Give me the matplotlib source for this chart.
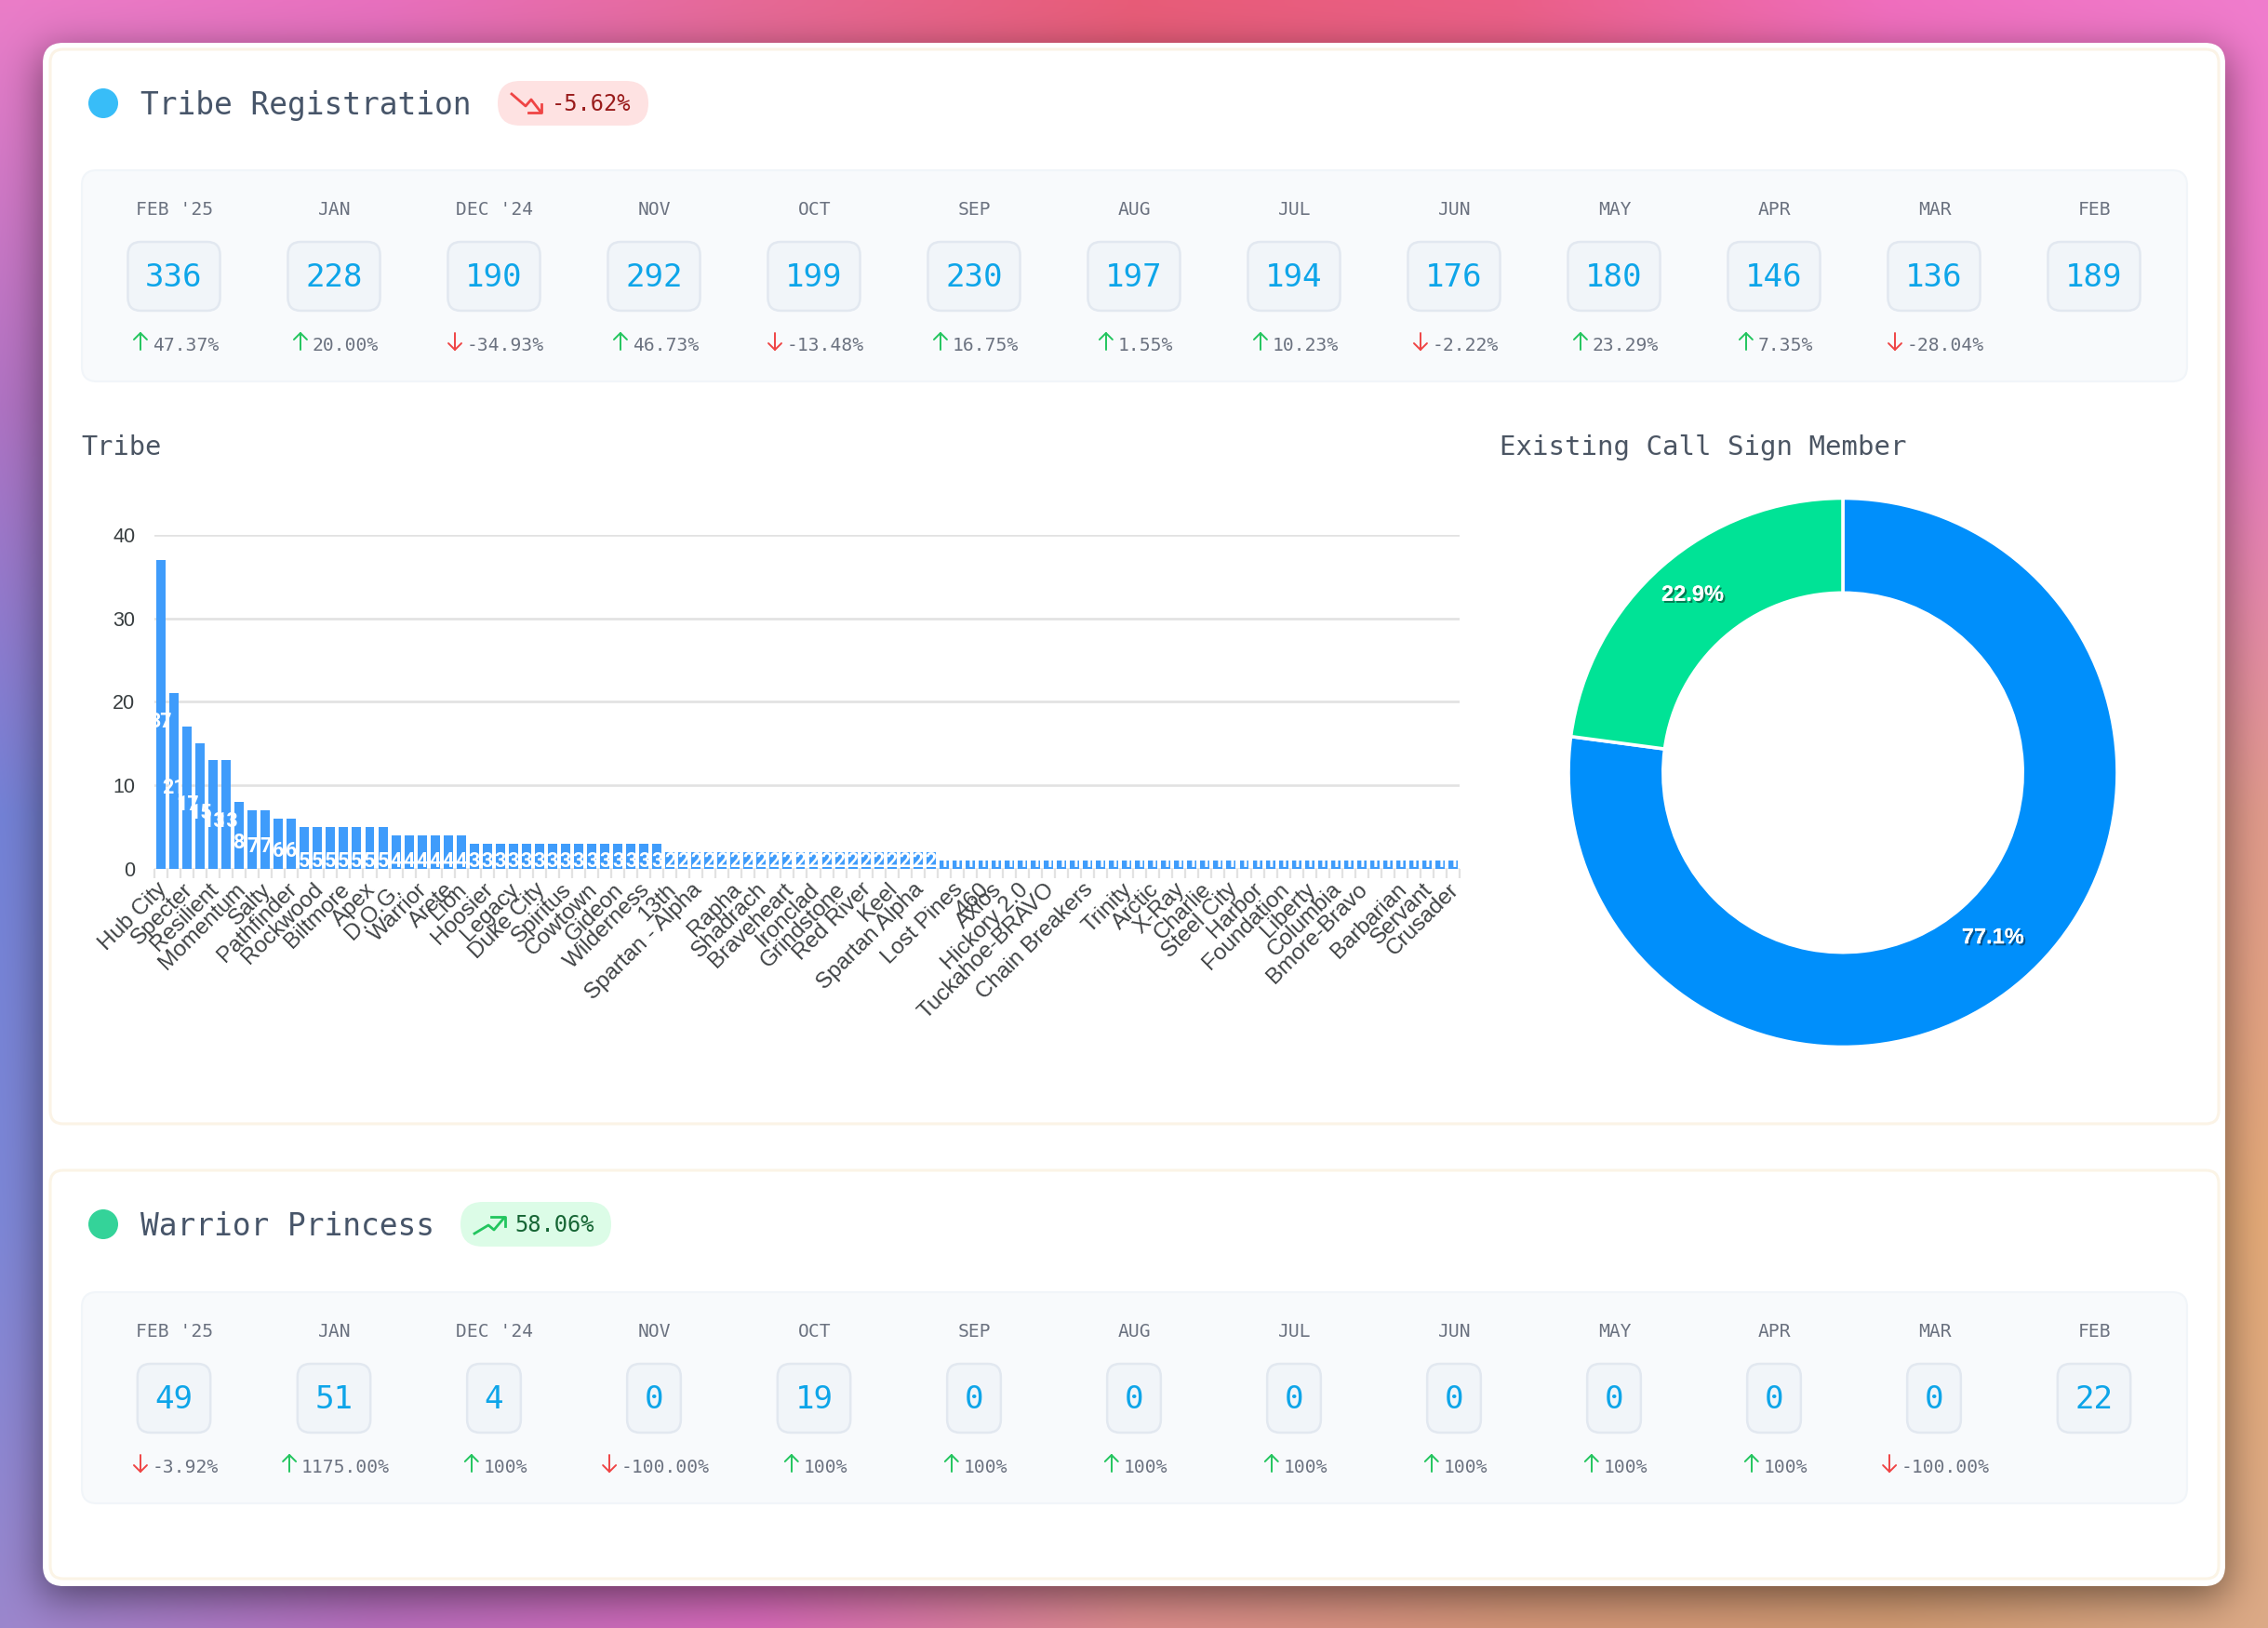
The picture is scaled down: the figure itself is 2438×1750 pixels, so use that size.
import numpy as np
import matplotlib
matplotlib.use("Agg")
import matplotlib.pyplot as plt
import matplotlib.patheffects as pe
from matplotlib.patches import FancyBboxPatch, Circle
from math import erf

# ---- dashboard figures ----
months = ["FEB '25", "JAN", "DEC '24", "NOV", "OCT", "SEP", "AUG", "JUL", "JUN", "MAY", "APR", "MAR", "FEB"]
tribe_totals = [336, 228, 190, 292, 199, 230, 197, 194, 176, 180, 146, 136, 189]
tribe_changes = ["47.37%", "20.00%", "-34.93%", "46.73%", "-13.48%", "16.75%", "1.55%",
                 "10.23%", "-2.22%", "23.29%", "7.35%", "-28.04%", None]
warrior_totals = [49, 51, 4, 0, 19, 0, 0, 0, 0, 0, 0, 0, 22]
warrior_changes = ["-3.92%", "1175.00%", "100%", "-100.00%", "100%", "100%", "100%",
                   "100%", "100%", "100%", "100%", "-100.00%", None]

tribe_counts = [37, 21, 17, 15, 13, 13, 8, 7, 7, 6, 6,
                5, 5, 5, 5, 5, 5, 5,
                4, 4, 4, 4, 4, 4,
                3, 3, 3, 3, 3, 3, 3, 3, 3, 3, 3, 3, 3, 3, 3,
                2, 2, 2, 2, 2, 2, 2, 2, 2, 2, 2, 2, 2, 2, 2, 2, 2, 2, 2, 2, 2,
                1, 1, 1, 1, 1, 1, 1, 1, 1, 1, 1, 1, 1, 1, 1, 1, 1, 1, 1, 1,
                1, 1, 1, 1, 1, 1, 1, 1, 1, 1, 1, 1, 1, 1, 1, 1, 1, 1, 1, 1]
shown_tribes = ["Hub City", "Specter", "Resilient", "Momentum", "Salty", "Pathfinder", "Rockwood",
                "Biltmore", "Apex", "D.O.G.", "Warrior", "Arete", "Lion", "Hoosier", "Legacy",
                "Duke City", "Spiritus", "Cowtown", "Gideon", "Wilderness", "13th", "Spartan - Alpha",
                "Rapha", "Shadrach", "Braveheart", "Ironclad", "Grindstone", "Red River", "Keel",
                "Spartan Alpha", "Lost Pines", "460", "Axios", "Hickory 2.0", "Tuckahoe-BRAVO",
                "Chain Breakers", "Trinity", "Arctic", "X-Ray", "Charlie", "Steel City", "Harbor",
                "Foundation", "Liberty", "Columbia", "Bmore-Bravo", "Barbarian", "Servant", "Crusader"]
shown_slots = [0, 2, 4, 6, 8, 10, 12, 14, 16, 18, 20, 22, 23, 25, 27, 29, 31, 33, 35, 37, 39, 41,
               44, 46, 48, 50, 52, 54, 56, 58, 61, 63, 64, 66, 68, 71, 74, 76, 78, 80, 82, 84,
               86, 88, 90, 92, 95, 97, 99]

call_sign_share = [77.1, 22.9]

W, H = 2438, 1750
MONO = "DejaVu Sans Mono"
SANS = "Liberation Sans"
plt.rcParams["font.family"] = [SANS, "DejaVu Sans"]

fig = plt.figure(figsize=(W / 100, H / 100), dpi=100)
ui = fig.add_axes([0, 0, 1, 1])
ui.set_xlim(0, W)
ui.set_ylim(H, 0)
ui.axis("off")

# ---- page backdrop: colour mesh darkened by the card's soft shadow ----
mesh = np.array([
    [[235, 125, 200], [232, 112, 190], [230, 105, 150], [232, 92, 120], [235, 95, 135], [240, 110, 190], [240, 125, 205]],
    [[175, 115, 195], [190, 110, 180], [210, 105, 150], [225, 105, 130], [230, 110, 150], [232, 115, 185], [232, 120, 195]],
    [[115, 130, 215], [150, 125, 190], [190, 120, 160], [215, 125, 140], [222, 135, 140], [225, 145, 140], [225, 155, 140]],
    [[125, 135, 215], [160, 120, 195], [200, 115, 170], [215, 135, 140], [222, 155, 125], [226, 165, 120], [228, 170, 120]],
    [[155, 135, 205], [185, 110, 190], [215, 105, 185], [220, 140, 140], [212, 150, 120], [210, 155, 115], [220, 170, 135]],
], dtype=float)
px = np.arange(W) + 0.5
py = np.arange(H) + 0.5
gx = np.linspace(0, W, mesh.shape[1])
gy = np.linspace(0, H, mesh.shape[0])
by_x = np.stack([[np.interp(px, gx, mesh[r, :, c]) for r in range(mesh.shape[0])] for c in range(3)])
backdrop = np.stack([np.stack([np.interp(py, gy, by_x[c, :, k]) for k in range(W)], axis=1) for c in range(3)], axis=2)
verf = np.vectorize(erf)
soft = 22 * np.sqrt(2)
sx = 0.5 * (verf((px - 46) / soft) - verf((px - 2392) / soft))
sy = 0.5 * (verf((py - 58) / soft) - verf((py - 1716) / soft))
backdrop *= (1 - 0.5 * np.outer(sy, sx))[:, :, None]
ui.imshow(backdrop.clip(0, 255).astype(np.uint8), extent=(0, W, H, 0), aspect="auto",
          interpolation="nearest", zorder=0)


def rounded(x0, y0, x1, y1, r, face, edge="none", lw=0.0, z=1):
    ui.add_patch(FancyBboxPatch((x0 + r, y0 + r), x1 - x0 - 2 * r, y1 - y0 - 2 * r,
                                boxstyle=f"round,pad={r},rounding_size={r}",
                                fc=face, ec=edge, lw=lw, zorder=z))


rounded(46, 46, 2392, 1705, 22, "white", z=1)
rounded(54, 53, 2385, 1208, 14, "white", "#fbf3e6", 2.2, z=2)
rounded(54, 1258, 2385, 1697, 14, "white", "#fbf4e6", 2.2, z=2)


def arrow_glyph(cx, top, bottom, up, colour):
    tip, tail = (top, bottom) if up else (bottom, top)
    sign = 1 if up else -1
    ui.plot([cx, cx], [tail, tip], color=colour, lw=1.4, solid_capstyle="round", zorder=5)
    ui.plot([cx - 7, cx, cx + 7], [tip + sign * 7, tip, tip + sign * 7], color=colour, lw=1.4,
            solid_capstyle="round", solid_joinstyle="round", zorder=5)


def section(name, dot, title_y, pill_x, pill_fill, pill_ink, badge, totals, changes, strip_y):
    ui.add_patch(Circle((111, title_y), 16, fc=dot, ec="none", zorder=4))
    ui.text(151, title_y + 2, name, family=MONO, fontsize=23.7, color="#475569", va="center", ha="left", zorder=5)
    rounded(pill_x, title_y - 24, pill_x + 162, title_y + 24, 24, pill_fill, z=4)
    ui.text(pill_x + 58, title_y + 1, badge, family=MONO, fontsize=17.1,
            color=pill_ink, va="center", ha="left", zorder=5)
    ox, oy = pill_x, title_y
    if badge[0] == "-":
        stroke = "#ef4444"
        line = [(15, -10), (30, 3), (36, -4), (46, 9)]
        head = [(47, 1), (47, 10), (33, 10)]
    else:
        stroke = "#22c55e"
        line = [(15, 10), (30, 1), (36, 6), (47, -7)]
        head = [(33, -8), (48, -8), (48, 2)]
    ui.plot([ox + a for a, _ in line], [oy + b for _, b in line], color=stroke, lw=2.0, zorder=5)
    ui.plot([ox + a for a, _ in head], [oy + b for _, b in head], color=stroke, lw=2.0, zorder=5)

    rounded(88, strip_y, 2351, strip_y + 227, 16, "#f8fafc", "#f1f5f9", 1.5, z=3)
    for k, label in enumerate(months):
        cx = 187 + 172 * k
        ui.text(cx + 0.5, strip_y + 42.5, label, family=MONO, fontsize=14.1, color="#6b7280",
                ha="center", va="center", zorder=5)
        shown = str(totals[k])
        half = (37 + 20.7 * len(shown)) / 2
        rounded(cx - half, strip_y + 77, cx + half, strip_y + 151, 14, "#f1f5f9", "#e2e8f0", 1.8, z=4)
        ui.text(cx, strip_y + 116, shown, family=MONO, fontsize=24.6, color="#0ea5e9",
                ha="center", va="center", zorder=5)
        change = changes[k]
        if change is None:
            continue
        falling = change.startswith("-")
        span = 20 + 11.85 * len(change)
        left = cx + 2 - span / 2
        arrow_glyph(left + 7.5, strip_y + 175, strip_y + 193, not falling,
                    "#ef4444" if falling else "#22c55e")
        ui.text(left + 20.5, strip_y + 188.5, change, family=MONO, fontsize=14.1, color="#6b7280",
                ha="left", va="center", zorder=5)


section("Tribe Registration", "#38bdf8", 111, 535, "#fee2e2", "#991b1b", "-5.62%",
        tribe_totals, tribe_changes, 183)
section("Warrior Princess", "#34d399", 1316, 495, "#dcfce7", "#166534", "58.06%",
        warrior_totals, warrior_changes, 1389)

ui.text(87, 481, "Tribe", family=MONO, fontsize=20.6, color="#4b5563", va="center", zorder=5)
ui.text(1612, 481, "Existing Call Sign Member", family=MONO, fontsize=20.9, color="#4b5563", va="center", zorder=5)


def pixel_axes(x0, y0, x1, y1):
    return fig.add_axes([x0 / W, 1 - y1 / H, (x1 - x0) / W, (y1 - y0) / H])


# ---- tribe bar chart ----
bars = pixel_axes(166, 575, 1569, 933.5)
bars.patch.set_alpha(0)
slots = np.arange(len(tribe_counts))
bars.bar(slots, tribe_counts, width=0.71, color="#3f9cfb", zorder=3)
bars.set_xlim(-0.5, len(tribe_counts) - 0.5)
bars.set_ylim(0, 40)
bars.set_yticks([0, 10, 20, 30, 40])
bars.grid(axis="y", color="#e2e2e2", lw=1.9, zorder=0)
bars.set_axisbelow(True)
for spine in bars.spines.values():
    spine.set_visible(False)
bars.tick_params(axis="y", length=0, labelsize=15.5, labelcolor="#373d3f", pad=15)
bars.set_xticks(np.arange(len(tribe_counts) + 1) - 0.5)
bars.set_xticklabels([])
bars.tick_params(axis="x", which="major", length=7.5, width=1.6, color="#e2e2e2")
# slot labels sit a little right of the slot centre, as rotated labels end at the tick
bars.set_xticks(np.array(shown_slots) + 0.2, labels=shown_tribes, minor=True)
bars.tick_params(axis="x", which="minor", length=0, pad=14, labelsize=17.5, labelcolor="#404345")
for t in bars.get_xticklabels(minor=True):
    t.set(rotation=45, ha="right", va="center", rotation_mode="anchor")

for slot, count in zip(slots, tribe_counts):
    if count > 5:
        anchor, lift = count / 2, -8
    else:
        anchor, lift = 0, 8
    bars.annotate(str(count), (slot, anchor), xytext=(0, lift), textcoords="offset pixels",
                  ha="center", va="center", color="white", fontsize=15.5, fontweight="bold",
                  family="Roboto", zorder=6, annotation_clip=False)

# ---- call sign donut ----
R = 296
donut = pixel_axes(1981 - R, 830.5 - R, 1981 + R, 830.5 + R)
_, _, shares = donut.pie(call_sign_share, colors=["#008ffb", "#00e396"], startangle=90, counterclock=False,
                         radius=295 / R, autopct="%.1f%%", pctdistance=0.83,
                         wedgeprops=dict(width=101.5 / 295, edgecolor="white", linewidth=2.6))
donut.set_xlim(-1, 1)
donut.set_ylim(-1, 1)
for share in shares:
    share.set(color="white", fontsize=17, fontweight="bold", family=SANS)
    share.set_position((share.get_position()[0], share.get_position()[1] + 7 / R))
    share.set_path_effects([pe.withSimplePatchShadow(offset=(1.5, -1.5), shadow_rgbFace="black", alpha=0.45),
                            pe.Normal()])

fig.savefig("out.png", dpi=100)
